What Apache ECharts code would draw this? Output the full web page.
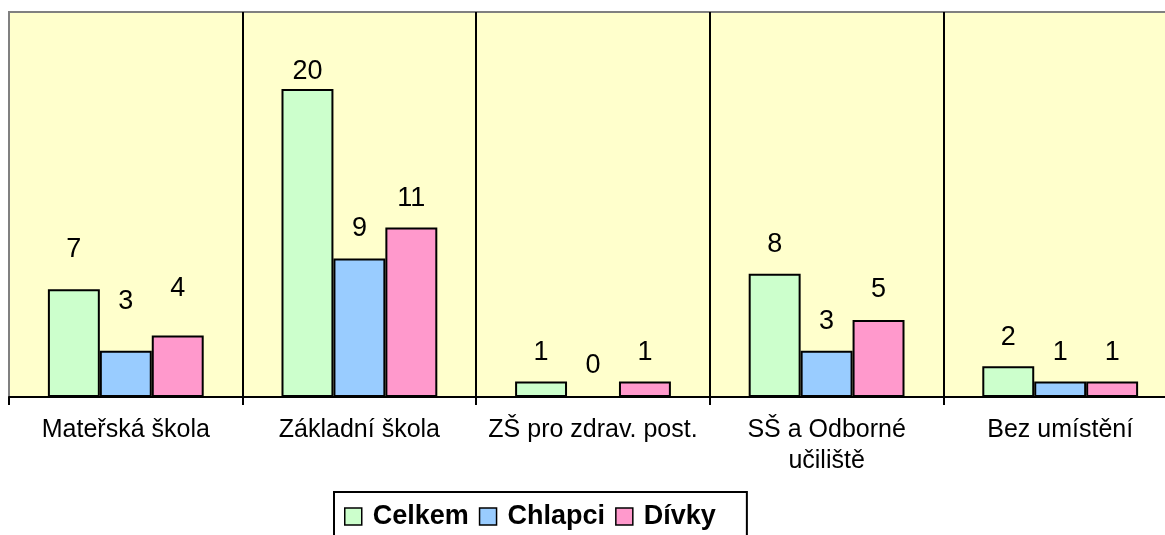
<!DOCTYPE html>
<html>
<head>
<meta charset="utf-8">
<script src="https://cdn.jsdelivr.net/npm/echarts@6/dist/echarts.min.js"></script>
<style>
html,body{margin:0;padding:0;background:#fff;overflow:hidden;width:1165px;height:535px;}
#chart{width:1177px;height:535px;}
</style>
</head>
<body>
<div id="chart"></div>
<script>
const categories = ['Mateřská škola', 'Základní škola', 'ZŠ pro zdrav. post.', 'SŠ a Odborné\nučiliště', 'Bez umístění'];
const seriesNames = ['Celkem', 'Chlapci', 'Dívky'];
const celkem = [7, 20, 1, 8, 2];
const chlapci = [3, 9, 0, 3, 1];
const divky = [4, 11, 1, 5, 1];

// label lift above bar tops (layout only)
const celkemLabelGap = [26, 4, 16, 16, 15];
const chlapciLabelGap = [36, 16, 17, 16, 16];
const divkyLabelGap = [33, 16, 16, 17, 16];

const colors = ['#CCFFCC', '#99CCFF', '#FF99CC'];
const FONT = '"Liberation Sans", Arial, Helvetica, sans-serif';

function mk(name, values, gaps, color) {
  return {
    name: name,
    type: 'bar',
    barGap: '0%',
    barCategoryGap: '33.3%',
    itemStyle: { color: color, borderColor: '#000', borderWidth: 2 },
    label: {
      show: true, position: 'top', color: '#000',
      fontFamily: FONT, fontSize: 27
    },
    data: values.map((v, i) => ({ value: v, label: { distance: gaps[i] } }))
  };
}

const chart = echarts.init(document.getElementById('chart'));
chart.setOption({
  animation: false,
  backgroundColor: '#ffffff',
  grid: {
    left: 9, top: 12, right: 0, bottom: 138,
    show: true, backgroundColor: '#FFFFCC',
    borderColor: '#808080', borderWidth: 2
  },
  legend: {
    left: 334, top: 492,
    orient: 'horizontal',
    icon: 'rect',
    itemWidth: 17, itemHeight: 17, itemGap: 10,
    padding: [11, 31, 9, 10],
    borderColor: '#000', borderWidth: 2,
    backgroundColor: '#fff',
    itemStyle: { borderColor: '#000', borderWidth: 1.5 },
    textStyle: {
      fontFamily: FONT, fontSize: 27, fontWeight: 'bold', color: '#000',
      padding: [0, 0, 0, 6]
    },
    data: seriesNames
  },
  xAxis: {
    type: 'category',
    data: categories,
    boundaryGap: true,
    axisLine: { show: true, lineStyle: { color: '#000', width: 2 } },
    axisTick: { show: true, length: 8, lineStyle: { color: '#000', width: 2 } },
    splitLine: {
      show: true,
      interval: function (index) { return index !== 0; },
      lineStyle: { color: '#000', width: 2 }
    },
    axisLabel: {
      color: '#000', fontFamily: FONT, fontSize: 25, lineHeight: 31,
      margin: 18, interval: 0
    }
  },
  yAxis: {
    type: 'value',
    min: 0, max: 25,
    axisLine: { show: false },
    axisTick: { show: false },
    axisLabel: { show: false },
    splitLine: { show: false }
  },
  series: [
    mk(seriesNames[0], celkem, celkemLabelGap, colors[0]),
    mk(seriesNames[1], chlapci, chlapciLabelGap, colors[1]),
    mk(seriesNames[2], divky, divkyLabelGap, colors[2])
  ]
});
</script>
</body>
</html>
